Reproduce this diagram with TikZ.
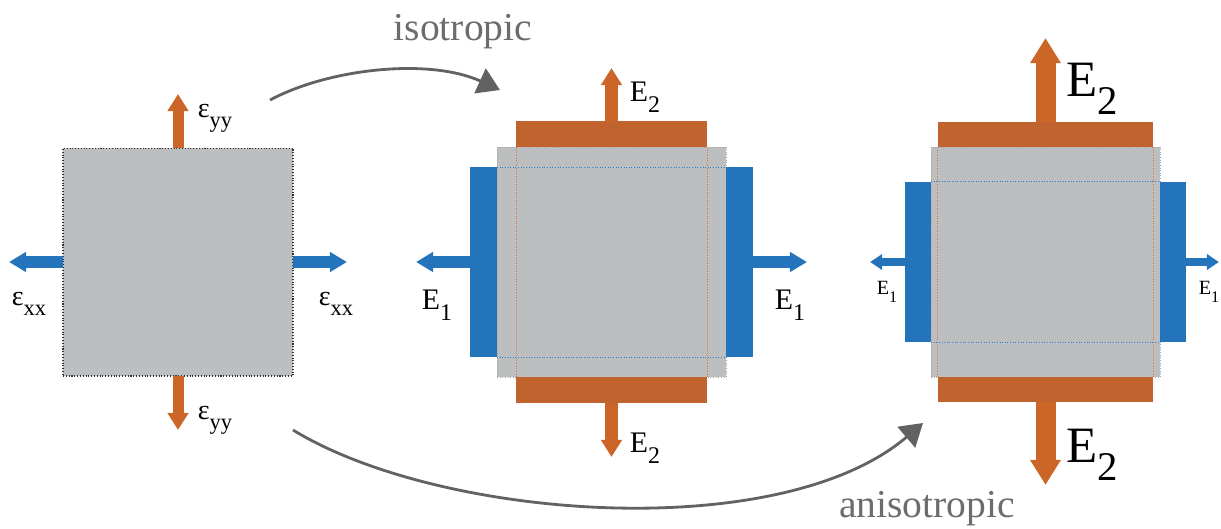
\documentclass[tikz,border=0pt]{standalone}
\usepackage{fontspec}
\setmainfont{Liberation Serif}
\usepackage{graphicx}
\usetikzlibrary{arrows.meta,positioning}

\definecolor{strainor}{RGB}{204,102,40}
\definecolor{baror}{RGB}{193,99,46}
\definecolor{dotor}{RGB}{222,112,48}
\definecolor{strainbl}{RGB}{36,116,187}
\definecolor{dotbl}{RGB}{40,124,208}
\definecolor{samplegr}{RGB}{189,190,192}
\definecolor{pathgr}{RGB}{98,98,98}
\definecolor{textgr}{RGB}{108,108,108}

% subscript set lower and smaller, as in the figure
\newcommand\lsub[2]{#1\raisebox{-0.36em}{\scalebox{0.8}{#2}}}

\tikzset{
  specimen/.style={fill=samplegr, inner sep=0pt, outer sep=0pt},
  hbar/.style={fill=baror, inner sep=0pt, outer sep=0pt},
  vbar/.style={fill=strainbl, inner sep=0pt, outer sep=0pt},
  pullor/.style n args={3}{draw=strainor, line width=#1, -{Triangle[width=#2,length=#3]}},
  pullbl/.style n args={3}{draw=strainbl, line width=#1, -{Triangle[width=#2,length=#3]}},
  edgeor/.style={draw=dotor, line width=0.5pt, densely dotted},
  edgebl/.style={draw=dotbl, line width=0.5pt, densely dotted},
  turn/.style={draw=pathgr, line width=1.6pt, -{Triangle[length=0.44cm,width=0.54cm]}},
  lbl/.style={inner sep=0pt, text=black},
}

\begin{document}
\begin{tikzpicture}[x=0.02cm, y=-0.02cm]
\useasboundingbox (0,0) rectangle (1221,528);

% undeformed sample
\node[specimen, draw=black!80, densely dotted, line width=0.6pt,
  minimum width=4.6cm, minimum height=4.56cm] (s1) at (178,262) {};
\draw[pullor={0.22cm}{0.4cm}{0.34cm}] (s1.north) -- ++(0,-54);
\draw[pullor={0.22cm}{0.4cm}{0.34cm}] (s1.south) -- ++(0,54);
\draw[pullbl={0.24cm}{0.38cm}{0.34cm}] (s1.west) -- ++(-54,0);
\draw[pullbl={0.24cm}{0.38cm}{0.34cm}] (s1.east) -- ++(54,0);
\node[lbl, font=\fontsize{16}{19}\selectfont] (eyyt) at (215,118) {\lsub{ε}{yy}};
\node[lbl, font=\fontsize{16}{19}\selectfont] (eyyb) at (215,420) {\lsub{ε}{yy}};
\node[lbl, font=\fontsize{16}{19}\selectfont] (exxl) at (29,304) {\lsub{ε}{xx}};
\node[lbl, font=\fontsize{16}{19}\selectfont] (exxr) at (336,304) {\lsub{ε}{xx}};

% isotropic case
\node[specimen, draw=black!35, densely dotted, line width=0.5pt,
  minimum width=4.58cm, minimum height=4.6cm] (m2) at (611.5,262) {};
\node[hbar, minimum width=3.82cm, minimum height=0.52cm, above=0pt of m2] (m2t) {};
\node[hbar, minimum width=3.82cm, minimum height=0.52cm, below=0pt of m2] (m2b) {};
\node[vbar, minimum width=0.54cm, minimum height=3.8cm, left=0pt of m2] (m2l) {};
\node[vbar, minimum width=0.54cm, minimum height=3.8cm, right=0pt of m2] (m2r) {};
\draw[edgeor] (m2t.south west) -- (m2b.north west);
\draw[edgeor] (m2t.south east) -- (m2b.north east);
\draw[edgebl] (m2l.north east) -- (m2r.north west);
\draw[edgebl] (m2l.south east) -- (m2r.south west);
\draw[pullor={0.26cm}{0.4cm}{0.34cm}] (m2t.north) -- ++(0,-53);
\draw[pullor={0.26cm}{0.4cm}{0.34cm}] (m2b.south) -- ++(0,54);
\draw[pullbl={0.24cm}{0.38cm}{0.34cm}] (m2l.west) -- ++(-54,0);
\draw[pullbl={0.24cm}{0.38cm}{0.34cm}] (m2r.east) -- ++(54,0);
\node[lbl, font=\fontsize{17}{20}\selectfont] (e2t) at (645,97) {\lsub{E}{2}};
\node[lbl, font=\fontsize{17}{20}\selectfont] (e2b) at (645,448) {\lsub{E}{2}};
\node[lbl, font=\fontsize{17}{20}\selectfont] (e1l) at (437,305) {\lsub{E}{1}};
\node[lbl, font=\fontsize{17}{20}\selectfont] (e1r) at (790,305) {\lsub{E}{1}};

% anisotropic case
\node[specimen, draw=black!35, densely dotted, line width=0.5pt,
  minimum width=4.58cm, minimum height=4.6cm] (r3) at (1045.5,262) {};
\node[hbar, minimum width=4.32cm, minimum height=0.5cm, above=0pt of r3] (r3t) {};
\node[hbar, minimum width=4.32cm, minimum height=0.5cm, below=0pt of r3] (r3b) {};
\node[vbar, minimum width=0.52cm, minimum height=3.22cm, left=0pt of r3] (r3l) {};
\node[vbar, minimum width=0.52cm, minimum height=3.22cm, right=0pt of r3] (r3r) {};
\draw[edgeor] (r3t.south west) -- (r3b.north west);
\draw[edgeor] (r3t.south east) -- (r3b.north east);
\draw[edgebl] (r3l.north east) -- (r3r.north west);
\draw[edgebl] (r3l.south east) -- (r3r.south west);
\draw[pullor={0.4cm}{0.58cm}{0.5cm}] (r3t.north) -- ++(0,-84);
\draw[pullor={0.4cm}{0.58cm}{0.5cm}] (r3b.south) -- ++(0,83);
\draw[pullbl={0.16cm}{0.3cm}{0.24cm}] (r3l.west) -- ++(-35,0);
\draw[pullbl={0.16cm}{0.3cm}{0.24cm}] (r3r.east) -- ++(33,0);
\node[lbl, font=\fontsize{29}{34}\selectfont] (E2t) at (1092,89) {\lsub{E}{2}};
\node[lbl, font=\fontsize{29}{34}\selectfont] (E2b) at (1092,455) {\lsub{E}{2}};
\node[lbl, font=\fontsize{11.5}{14}\selectfont] (E1l) at (887,292) {\lsub{E}{1}};
\node[lbl, font=\fontsize{11.5}{14}\selectfont] (E1r) at (1209,292) {\lsub{E}{1}};

% transitions
\coordinate (iso-a) at (270,100);
\coordinate (iso-b) at (500,90);
\coordinate (ani-a) at (293,430);
\coordinate (ani-b) at (923,423);
\draw[turn] (iso-a) .. controls (330,68) and (430,58) .. (iso-b);
\draw[turn] (ani-a) .. controls (440,520) and (780,545) .. (ani-b);
\node[inner sep=0pt, anchor=base, text=textgr, font=\fontsize{22.5}{26}\selectfont] (iso) at (463,40) {isotropic};
\node[inner sep=0pt, anchor=base, text=textgr, font=\fontsize{22.5}{26}\selectfont] (ani) at (927,517) {anisotropic};
\end{tikzpicture}
\end{document}
